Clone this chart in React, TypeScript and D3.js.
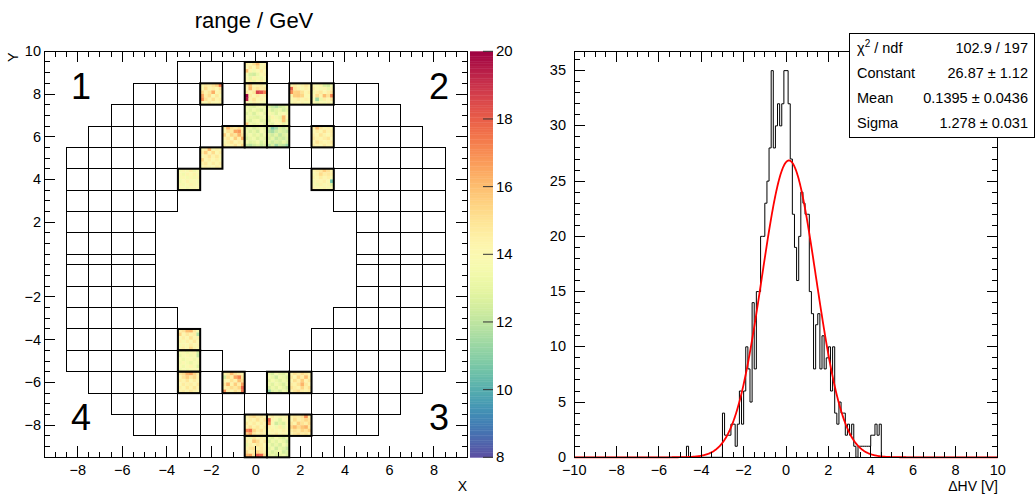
import React from "react";
import * as d3 from "d3";

const W = 1036;
const H = 494;
const FONT = "'Liberation Sans', Arial, Helvetica, sans-serif";

// ---------------- Left panel: calorimeter map ----------------
const mapTitle = "range / GeV";
const xTicksLeft = [-8, -6, -4, -2, 0, 2, 4, 6, 8];
const yTicksLeft = [10, 8, 6, 4, 2, -2, -4, -6, -8];
const quadrantLabels = ["1", "2", "3", "4"];
const paletteTicks = [8, 10, 12, 14, 16, 18, 20];

// rows of the detector (top/bottom edges in axis units) and the column ranges present in each row
const rowTops = [9.5, 8.5, 7.5, 6.5, 5.5, 4.5, 3.5, 2.5, 1.5, 0.5, -0.5, -1.5, -2.5, -3.5, -4.5, -5.5, -6.5, -7.5, -8.5];
const rowBottoms = [8.5, 7.5, 6.5, 5.5, 4.5, 3.5, 2.5, 1.5, 0.5, 0, -1.5, -2.5, -3.5, -4.5, -5.5, -6.5, -7.5, -8.5, -9.5];
const rowColumns: [number, number][][] = [
  [[-3, 3]],
  [[-5, 5]],
  [[-6, 6]],
  [[-7, 7]],
  [[-8, -2], [2, 8]],
  [[-8, -3], [3, 8]],
  [[-8, -4], [4, 8]],
  [[-8, -5], [5, 8]],
  [[-8, -5], [5, 8]],
  [[-8, -5], [5, 8]],
  [[-8, -5], [5, 8]],
  [[-8, -5], [5, 8]],
  [[-8, -4], [4, 8]],
  [[-8, -3], [3, 8]],
  [[-8, -2], [2, 8]],
  [[-7, 7]],
  [[-6, 6]],
  [[-5, 5]],
  [[-3, 3]],
];

// instrumented cells [column, row] and their 6x6 sub-cell values (GeV)
const hotCells: [number, number][] = [
  [0, 9], [-2, 8], [0, 8], [2, 8], [3, 8], [0, 7], [1, 7], [-1, 6], [0, 6], [1, 6], [3, 6], [-2, 5], [-3, 4], [3, 4],
  [-3, -4], [-3, -5], [-3, -6], [-1, -6], [1, -6], [2, -6], [0, -8], [1, -8], [2, -8], [0, -9], [1, -9],
];
const hotValues: number[][][] = [
  [[14.5,14.2,15.0,16.0,14.0,14.3],[14.0,14.8,14.2,15.2,13.8,14.5],[16.0,14.3,13.5,14.0,14.6,13.9],[13.6,12.6,12.4,13.2,14.1,14.4],[14.2,13.0,14.4,13.5,13.3,14.0],[13.8,14.5,13.2,14.0,14.6,13.7]],
  [[14.2,14.8,14.5,15.0,15.5,17.5],[14.0,15.2,14.3,14.6,14.1,15.0],[15.3,14.4,14.9,16.3,14.2,14.5],[16.5,14.6,15.2,14.0,14.8,13.8],[17.0,15.0,14.4,15.1,14.3,14.6],[14.3,13.8,14.7,14.2,14.0,14.4]],
  [[14.6,15.8,14.2,14.4,14.7,14.2],[14.0,16.2,14.5,14.9,14.6,14.8],[14.8,14.2,14.8,18.6,18.2,17.2],[20.0,14.6,14.0,14.7,14.2,14.5],[19.6,14.3,14.9,13.9,14.4,14.0],[14.2,13.6,14.5,14.1,13.8,13.5]],
  [[14.2,14.6,14.0,14.4,14.8,14.3],[18.0,14.8,14.4,13.8,14.5,14.1],[17.0,15.5,15.6,15.0,14.2,14.6],[14.4,15.6,15.7,15.4,14.1,13.9],[14.0,14.3,14.6,14.2,14.5,14.2],[13.8,14.4,14.0,14.3,13.7,14.0]],
  [[14.2,13.8,14.4,12.6,12.4,13.5],[14.6,14.0,13.6,14.3,13.2,14.4],[13.5,14.5,14.8,14.0,14.6,15.0],[14.1,15.2,14.4,16.0,15.0,17.2],[13.7,11.4,13.2,14.6,14.2,14.8],[14.0,13.3,14.1,13.6,14.3,14.0]],
  [[13.2,13.0,12.8,13.4,13.6,13.1],[13.4,12.9,13.5,13.0,12.7,13.3],[12.8,13.3,12.6,13.4,13.8,12.9],[13.6,13.1,13.0,12.8,13.2,13.5],[13.2,12.7,13.4,13.6,12.9,13.1],[15.8,13.4,13.0,13.3,13.6,12.8]],
  [[12.8,12.2,11.8,12.4,12.6,13.2],[13.4,12.5,12.9,13.2,12.4,13.0],[14.2,13.3,12.8,13.6,14.0,13.4],[13.0,14.4,13.5,13.1,16.0,14.2],[12.8,13.6,14.1,13.4,15.8,13.2],[13.5,12.9,13.8,14.2,13.0,13.6]],
  [[14.4,16.2,15.0,14.6,15.2,14.3],[14.0,15.0,14.8,16.5,16.8,14.6],[15.5,14.2,15.4,14.9,16.2,15.0],[14.3,14.8,14.1,15.6,14.5,16.3],[13.8,14.5,15.0,14.2,14.7,14.4],[14.6,14.0,14.4,15.0,14.2,15.2]],
  [[12.8,13.2,12.6,13.0,13.4,12.9],[13.3,12.7,13.1,12.5,13.6,13.2],[13.0,13.5,12.9,13.3,12.8,13.4],[12.6,13.1,13.4,12.7,13.2,12.9],[13.4,12.8,13.0,13.5,12.6,13.1],[12.2,11.9,12.4,12.8,12.3,12.6]],
  [[12.4,10.8,11.5,12.6,12.2,12.9],[12.0,11.6,12.3,12.8,12.5,12.2],[12.8,12.4,12.9,12.1,12.7,13.0],[12.5,13.0,12.2,12.6,12.3,12.8],[12.9,12.3,12.7,12.4,13.1,12.5],[11.8,12.6,11.4,12.2,12.0,11.3]],
  [[14.3,16.0,14.8,14.2,14.5,14.0],[14.0,14.6,14.2,15.0,14.3,14.7],[14.5,14.1,14.9,14.4,14.0,14.6],[14.8,14.4,14.2,14.6,14.9,14.2],[14.2,15.0,14.5,14.1,14.4,14.8],[14.6,14.3,14.0,14.7,14.2,14.5]],
  [[14.2,14.6,16.2,14.0,14.4,14.1],[14.5,15.6,14.2,15.2,14.0,14.6],[14.0,14.4,15.0,14.3,14.8,14.2],[15.3,14.2,14.6,14.1,14.5,13.8],[14.4,14.8,14.0,14.7,14.2,14.6],[14.1,14.5,14.3,14.0,14.6,14.3]],
  [[13.6,14.2,13.8,14.5,13.4,14.0],[14.0,13.5,14.3,13.9,14.4,13.7],[13.8,14.1,13.6,14.2,13.5,14.3],[13.4,13.9,14.4,13.7,14.1,13.6],[14.2,13.6,13.9,14.3,13.8,14.0],[13.7,14.0,13.5,13.8,14.2,13.9]],
  [[14.2,14.6,14.8,15.6,15.0,14.3],[13.8,14.4,15.2,14.6,14.8,14.5],[14.4,14.0,14.6,14.2,14.5,13.8],[13.6,14.3,14.1,14.5,13.9,10.6],[14.0,13.5,14.4,13.8,14.2,12.8],[14.3,14.1,13.7,14.4,13.6,14.0]],
  [[14.6,15.0,16.0,16.2,14.8,13.6],[15.4,14.2,14.8,14.4,14.6,11.8],[14.0,14.6,14.2,15.0,14.3,14.5],[14.4,13.8,14.5,14.1,14.8,14.0],[13.6,14.2,13.9,14.6,14.0,14.3],[14.1,14.5,14.0,15.2,14.4,13.8]],
  [[13.6,14.0,13.4,13.8,14.2,12.4],[13.2,13.8,14.1,13.5,13.9,12.2],[13.9,13.3,13.7,14.0,13.4,13.8],[13.5,14.1,13.6,13.2,13.8,13.4],[14.0,13.4,13.9,14.3,13.6,12.8],[13.3,13.8,13.5,13.7,14.0,13.6]],
  [[14.8,15.2,16.2,16.5,15.4,14.6],[14.2,15.0,15.6,14.8,15.3,14.4],[14.6,14.3,14.9,14.1,14.7,14.2],[14.0,14.7,14.4,14.6,14.2,14.8],[14.5,14.1,14.8,14.3,14.9,14.3],[14.3,14.6,14.2,14.8,14.4,14.1]],
  [[14.4,14.8,16.0,15.0,14.6,14.3],[12.4,15.2,14.6,16.5,17.2,14.8],[14.2,14.0,15.0,14.4,16.0,15.2],[14.8,16.2,14.4,15.6,14.6,16.6],[14.3,14.6,15.2,14.8,15.4,17.8],[17.0,14.5,14.2,15.0,14.6,17.5]],
  [[13.2,12.6,13.8,13.0,12.8,13.5],[13.6,13.1,12.4,13.5,13.2,12.7],[12.9,13.6,13.2,12.8,13.4,13.0],[13.4,12.8,13.5,13.1,12.6,13.3],[12.6,13.3,12.9,13.6,13.0,12.4],[11.2,12.8,13.2,12.5,13.4,12.9]],
  [[14.4,15.0,14.6,15.2,14.8,14.3],[14.8,14.2,15.4,14.6,16.0,14.5],[14.2,15.1,14.5,15.6,14.3,14.9],[14.6,14.4,15.0,16.2,14.8,14.2],[15.0,14.6,14.3,15.4,14.5,15.1],[14.3,14.9,15.2,14.6,14.4,14.7]],
  [[14.4,14.9,15.2,14.6,14.8,14.2],[14.0,14.6,14.3,15.0,14.4,14.9],[14.8,14.2,14.7,14.1,14.6,14.3],[14.3,15.0,14.4,14.8,14.2,14.7],[17.2,17.6,15.4,14.6,15.0,14.4],[15.6,16.4,14.8,14.3,14.7,14.5]],
  [[14.2,14.6,14.0,14.4,13.8,14.5],[18.0,14.3,13.6,12.8,14.1,14.0],[17.2,13.8,12.4,13.0,12.6,14.2],[14.5,14.1,13.5,14.6,13.2,13.8],[14.0,14.4,14.2,13.9,14.5,14.1],[13.8,14.2,14.6,14.0,14.3,13.7]],
  [[14.4,14.8,14.6,15.0,17.0,14.5],[14.2,15.2,14.5,14.8,15.4,14.9],[14.8,14.4,15.6,15.0,14.6,15.2],[15.4,16.0,15.2,15.8,16.2,14.8],[14.6,15.0,14.7,15.4,15.0,15.6],[14.3,14.8,15.1,14.6,14.9,14.4]],
  [[14.2,13.4,14.8,14.0,14.5,14.2],[14.6,14.0,15.8,15.2,14.3,14.8],[13.2,14.5,14.2,14.9,14.6,14.0],[14.4,14.8,15.0,14.2,14.7,14.3],[15.2,14.4,14.6,15.4,14.9,14.5],[16.2,16.6,15.0,18.2,17.8,15.2]],
  [[13.2,12.8,13.6,13.0,12.6,13.4],[12.6,13.3,12.9,13.5,13.1,12.4],[13.4,12.7,13.2,12.6,13.6,12.9],[12.9,13.5,12.4,13.2,12.8,12.2],[13.3,12.6,13.0,13.4,12.4,12.7],[12.8,13.1,12.6,12.9,13.3,12.6]],
];

// ---------------- Right panel: ΔHV histogram ----------------
const histMin = -10;
const histMax = 10;
const binWidth = 0.1;
const firstFilledBin = -4.7;
const histCounts = [
  1, 0, 0, 0, 0, 0, 0, 0, 0, 0, 0, 0, 0, 0, 0, 0, 0,
  4, 2, 2, 2, 3, 3, 1, 3, 6, 3,
  6, 10, 8, 5, 14, 8, 15, 15, 20, 20,
  23, 25, 28, 35, 28, 30, 32, 30, 32, 35,
  35, 32, 27, 22, 19, 16, 20, 24, 23, 22,
  22, 15, 13, 8, 12, 13, 8, 11, 8, 9,
  10, 6, 10, 4, 3, 5, 4, 4, 2, 3,
  2, 3, 1, 0, 1, 1, 1, 1, 1, 1,
  2, 2, 3, 2, 3,
];
const xTicksRight = [-10, -8, -6, -4, -2, 0, 2, 4, 6, 8, 10];
const yTicksRight = [0, 5, 10, 15, 20, 25, 30, 35];
const fitConstant = 26.87;
const fitMean = 0.1395;
const fitSigma = 1.278;
const statsLabels = ["χ2 / ndf", "Constant", "Mean", "Sigma"];
const statsValues = ["102.9 / 197", "26.87 ± 1.12", "0.1395 ± 0.0436", "1.278 ± 0.031"];
const xTitleRight = "ΔHV [V]";

const fmt = (v: number) => (v < 0 ? "\u2212" + Math.abs(v) : String(v));

export default function App() {
  // scales, left panel
  const xL = d3.scaleLinear().domain([-9.5, 9.5]).range([44.3, 467.4]);
  const yL = d3.scaleLinear().domain([-9.5, -0.5, 0, 10]).range([457.3, 264.8, 264.8, 51.3]);
  const color = d3.scaleSequential((t: number) => d3.interpolateSpectral(1 - t)).domain([8, 20]);
  const yPal = d3.scaleLinear().domain([8, 20]).range([457.3, 51.3]);
  // scales, right panel
  const xR = d3.scaleLinear().domain([histMin, histMax]).range([574.2, 997.8]);
  const yR = d3.scaleLinear().domain([0, 36.75]).range([457.3, 51.3]);

  const [lx0, lx1] = xL.range();
  const ly0 = yL(10), ly1 = yL(-9.5);
  const [rx0, rx1] = xR.range();
  const ry0 = yR(36.75), ry1 = yR(0);

  // detector outline cells
  const cells: { x: number; y: number; w: number; h: number; key: string }[] = [];
  rowColumns.forEach((ranges, i) => {
    ranges.forEach(([a, b]) => {
      for (let c = a; c <= b; c++) {
        const x = xL(c - 0.5), y = yL(rowTops[i]);
        cells.push({ x, y, w: xL(c + 0.5) - x, h: yL(rowBottoms[i]) - y, key: `${i}_${c}` });
      }
    });
  });

  // ticks
  const tickEls: React.ReactNode[] = [];
  const MAJ = 11, MIN = 5.5;
  d3.range(-9.5, 9.5001, 0.5).forEach((v, k) => {
    const len = xTicksLeft.includes(v) ? MAJ : MIN;
    const x = xL(v);
    tickEls.push(<line key={`lxb${k}`} x1={x} x2={x} y1={ly1} y2={ly1 - len} />);
    tickEls.push(<line key={`lxt${k}`} x1={x} x2={x} y1={ly0} y2={ly0 + len} />);
  });
  d3.range(-9.5, 10.001, 0.5).filter((v) => v !== -0.5).forEach((v, k) => {
    const len = yTicksLeft.includes(v) ? MAJ : MIN;
    const y = yL(v);
    tickEls.push(<line key={`lyl${k}`} x1={lx0} x2={lx0 + len} y1={y} y2={y} />);
    tickEls.push(<line key={`lyr${k}`} x1={lx1} x2={lx1 - len} y1={y} y2={y} />);
  });
  d3.range(-10, 10.001, 0.5).forEach((v, k) => {
    const len = xTicksRight.includes(v) ? MAJ : MIN;
    const x = xR(v);
    tickEls.push(<line key={`rxb${k}`} x1={x} x2={x} y1={ry1} y2={ry1 - len} />);
    tickEls.push(<line key={`rxt${k}`} x1={x} x2={x} y1={ry0} y2={ry0 + len} />);
  });
  d3.range(0, 36.001, 1).forEach((v, k) => {
    const len = yTicksRight.includes(v) ? MAJ : MIN;
    const y = yR(v);
    tickEls.push(<line key={`ryl${k}`} x1={rx0} x2={rx0 + len} y1={y} y2={y} />);
    tickEls.push(<line key={`ryr${k}`} x1={rx1} x2={rx1 - len} y1={y} y2={y} />);
  });

  // histogram outline (200 bins)
  const nBins = Math.round((histMax - histMin) / binWidth);
  const firstIdx = Math.round((firstFilledBin - histMin) / binWidth);
  const counts = d3.range(nBins).map((i) => {
    const j = i - firstIdx;
    return j >= 0 && j < histCounts.length ? histCounts[j] : 0;
  });
  let histPath = `M${xR(histMin)},${yR(counts[0])}`;
  counts.forEach((c, i) => {
    const hi = histMin + (i + 1) * binWidth;
    histPath += `V${yR(c)}H${xR(hi)}`;
  });
  histPath += `V${yR(0)}`;

  const gaus = (x: number) => fitConstant * Math.exp(-0.5 * ((x - fitMean) / fitSigma) ** 2);
  const fitLine = d3
    .line<number>()
    .x((x) => xR(x))
    .y((x) => yR(gaus(x)))(d3.range(histMin, histMax + 0.0001, 0.02)) as string;

  // palette strips
  const palSteps = d3.range(0, 240);
  const palH = (yPal(8) - yPal(20)) / palSteps.length;

  const quadPos: [number, number][] = [
    [-7.85, 7.77],
    [8.22, 7.77],
    [8.22, -8.22],
    [-7.85, -8.22],
  ];

  return (
    <svg width={W} height={H} style={{ display: "block", position: "absolute", left: 0, top: 0 }} fontFamily={FONT}>
      <rect x={0} y={0} width={W} height={H} fill="#fff" />

      {/* title */}
      <text x={254} y={28} fontSize={22} textAnchor="middle" fill="#000">{mapTitle}</text>

      {/* detector cells */}
      <g fill="none" stroke="#000" strokeWidth={1} shapeRendering="crispEdges">
        {cells.map((c) => (
          <rect key={c.key} x={c.x} y={c.y} width={c.w} height={c.h} />
        ))}
      </g>
      {/* colored sub-cells */}
      {hotCells.map(([c, r], k) => {
        const x0 = xL(c - 0.5), x1 = xL(c + 0.5);
        const yt = yL(r + 0.5), yb = yL(r - 0.5);
        const sw = (x1 - x0) / 6, sh = (yb - yt) / 6;
        return (
          <g key={`hot${k}`}>
            {hotValues[k].map((row, j) =>
              row.map((v, i) => (
                <rect key={`${j}_${i}`} x={x0 + i * sw} y={yt + j * sh} width={sw + 0.3} height={sh + 0.3} fill={color(v)} />
              ))
            )}
            <rect x={x0} y={yt} width={x1 - x0} height={yb - yt} fill="none" stroke="#000" strokeWidth={2} />
          </g>
        );
      })}

      {/* quadrant numbers */}
      {quadrantLabels.map((t, i) => (
        <text key={`q${t}`} x={xL(quadPos[i][0])} y={yL(quadPos[i][1])} fontSize={36} textAnchor="middle" fill="#000">{t}</text>
      ))}

      {/* palette */}
      {palSteps.map((s) => {
        const v = 8 + ((s + 0.5) / palSteps.length) * 12;
        return <rect key={`p${s}`} x={470} y={yPal(8) - (s + 1) * palH} width={23} height={palH + 0.4} fill={color(v)} />;
      })}
      <g stroke="#333" strokeWidth={1}>
        {paletteTicks.map((v) => (
          <line key={`pt${v}`} x1={493} x2={483} y1={yPal(v)} y2={yPal(v)} />
        ))}
      </g>
      <g fontSize={15} fill="#000">
        {paletteTicks.map((v) => (
          <text key={`pl${v}`} x={496} y={yPal(v) + 5}>{v}</text>
        ))}
      </g>

      {/* right: histogram + fit */}
      <path d={histPath} fill="none" stroke="#000" strokeWidth={1} />
      <path d={fitLine} fill="none" stroke="#ff0000" strokeWidth={1.8} />

      {/* frames */}
      <g shapeRendering="crispEdges">
        <rect x={lx0} y={ly0} width={lx1 - lx0} height={ly1 - ly0} fill="none" stroke="#000" strokeWidth={1} />
        <rect x={rx0} y={ry0} width={rx1 - rx0} height={ry1 - ry0} fill="none" stroke="#000" strokeWidth={1} />
        <g stroke="#000" strokeWidth={1}>{tickEls}</g>
      </g>

      {/* axis labels left */}
      <g fontSize={14.5} fill="#000">
        {xTicksLeft.map((v) => (
          <text key={`lxl${v}`} x={xL(v)} y={475} textAnchor="middle">{fmt(v)}</text>
        ))}
        {yTicksLeft.map((v) => (
          <text key={`lyl${v}`} x={41} y={yL(v) + 5} textAnchor="end">{fmt(v)}</text>
        ))}
        <text x={467} y={491} fontSize={14} textAnchor="end">X</text>
        <text transform={`translate(18,${ly0 + 1}) rotate(-90)`} textAnchor="end">Y</text>
      </g>

      {/* axis labels right */}
      <g fontSize={14.5} fill="#000">
        {xTicksRight.map((v) => (
          <text key={`rxl${v}`} x={xR(v)} y={475} textAnchor="middle">{fmt(v)}</text>
        ))}
        {yTicksRight.map((v) => (
          <text key={`ryl${v}`} x={566} y={yR(v) + 4.5} textAnchor="end">{v}</text>
        ))}
        <text x={998} y={491} fontSize={14} textAnchor="end">{xTitleRight}</text>
      </g>

      {/* stats box */}
      <rect x={849} y={33} width={185} height={104} fill="#fff" stroke="#000" strokeWidth={1} shapeRendering="crispEdges" />
      <g fontSize={14.5} fill="#000">
        {statsLabels.map((t, i) => (
          <text key={`sl${i}`} x={857} y={52.5 + i * 25.3}>
            {i === 0 ? (
              <>
                <tspan>χ</tspan>
                <tspan fontSize={10} dy={-6}>2</tspan>
                <tspan dy={6}> / ndf</tspan>
              </>
            ) : (
              t
            )}
          </text>
        ))}
        {statsValues.map((t, i) => (
          <text key={`sv${i}`} x={1028} y={52.5 + i * 25.3} textAnchor="end">{t}</text>
        ))}
      </g>
    </svg>
  );
}
